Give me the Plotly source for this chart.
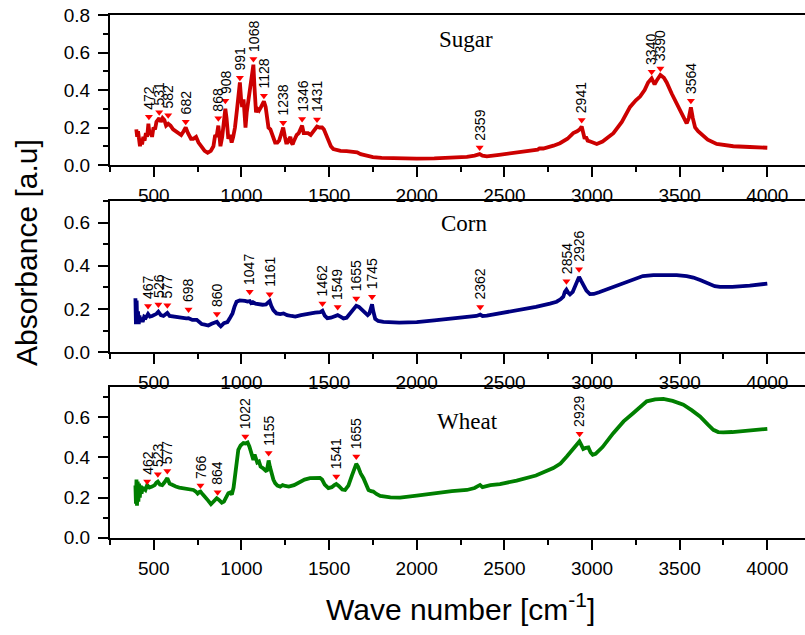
import plotly.graph_objects as go

# ---------------- data ----------------
sugar_x = [400,405,410,415,421,428,433,440,447,455,462,469,476,483,490,498,507,515,525,531,540,550,560,570,582,595,610,625,640,656,670,682,695,712,725,741,755,769,790,807,825,840,850,858,868,875,880,890,898,908,915,920,925,935,944,953,963,975,983,991,998,1004,1012,1018,1023,1030,1039,1048,1056,1062,1068,1074,1078,1083,1090,1100,1112,1120,1128,1138,1145,1154,1165,1175,1184,1192,1205,1215,1225,1238,1248,1255,1262,1270,1279,1285,1292,1300,1315,1327,1337,1346,1355,1365,1380,1395,1410,1422,1431,1445,1460,1470,1480,1496,1510,1524,1545,1565,1600,1640,1660,1680,1710,1750,1800,1900,2000,2100,2200,2286,2330,2359,2375,2400,2470,2520,2570,2650,2690,2700,2722,2780,2817,2860,2893,2915,2930,2941,2950,2958,2965,2975,2990,3010,3027,3060,3090,3122,3170,3217,3250,3274,3300,3320,3340,3357,3372,3390,3410,3426,3455,3483,3510,3540,3552,3564,3575,3588,3605,3626,3660,3711,3760,3806,3900,4000]
sugar_y = [0.19,0.15,0.18,0.12,0.10,0.14,0.11,0.15,0.13,0.17,0.15,0.22,0.16,0.18,0.15,0.20,0.19,0.23,0.24,0.25,0.23,0.25,0.24,0.21,0.22,0.21,0.19,0.18,0.17,0.16,0.18,0.20,0.17,0.14,0.14,0.15,0.12,0.10,0.075,0.065,0.075,0.10,0.16,0.15,0.21,0.15,0.10,0.15,0.22,0.30,0.25,0.18,0.14,0.16,0.12,0.15,0.20,0.30,0.40,0.44,0.35,0.31,0.35,0.28,0.20,0.28,0.35,0.40,0.48,0.52,0.535,0.42,0.30,0.28,0.30,0.29,0.31,0.33,0.34,0.31,0.24,0.20,0.19,0.16,0.13,0.12,0.12,0.13,0.16,0.20,0.15,0.12,0.12,0.14,0.15,0.12,0.11,0.13,0.16,0.17,0.19,0.21,0.17,0.17,0.17,0.16,0.18,0.20,0.205,0.20,0.20,0.19,0.17,0.14,0.10,0.085,0.078,0.075,0.074,0.073,0.068,0.058,0.050,0.042,0.038,0.035,0.034,0.035,0.037,0.043,0.050,0.058,0.050,0.046,0.054,0.060,0.066,0.076,0.082,0.088,0.088,0.103,0.116,0.14,0.17,0.18,0.19,0.205,0.16,0.14,0.15,0.13,0.125,0.115,0.112,0.125,0.145,0.17,0.23,0.31,0.345,0.365,0.40,0.44,0.462,0.43,0.455,0.48,0.465,0.44,0.38,0.33,0.28,0.222,0.25,0.308,0.25,0.20,0.18,0.165,0.135,0.112,0.104,0.100,0.096,0.092]

corn_x = [395,398,402,405,410,414,418,424,430,436,445,455,467,478,490,505,515,526,540,555,565,577,590,605,625,645,669,685,698,720,745,760,773,790,811,830,845,860,870,882,900,920,935,949,960,972,990,1006,1020,1035,1047,1055,1065,1080,1100,1120,1140,1150,1161,1170,1182,1200,1221,1240,1260,1285,1307,1340,1383,1420,1450,1462,1475,1490,1510,1535,1549,1565,1582,1600,1620,1640,1655,1670,1685,1700,1720,1730,1738,1745,1752,1763,1780,1810,1900,2000,2100,2200,2286,2340,2362,2375,2400,2475,2570,2680,2760,2798,2820,2836,2845,2854,2865,2874,2890,2905,2916,2926,2938,2950,2968,2988,3010,3040,3080,3122,3180,3236,3290,3350,3420,3483,3540,3578,3620,3650,3673,3700,3730,3800,3900,4000]
corn_y = [0.25,0.13,0.24,0.14,0.19,0.13,0.17,0.14,0.16,0.14,0.165,0.16,0.177,0.165,0.168,0.172,0.178,0.188,0.172,0.168,0.174,0.182,0.168,0.166,0.162,0.160,0.157,0.157,0.158,0.150,0.150,0.137,0.131,0.128,0.124,0.132,0.137,0.141,0.130,0.120,0.135,0.14,0.16,0.18,0.21,0.234,0.240,0.240,0.238,0.235,0.237,0.228,0.232,0.225,0.222,0.220,0.222,0.230,0.237,0.215,0.195,0.180,0.177,0.180,0.172,0.168,0.165,0.172,0.180,0.184,0.186,0.192,0.170,0.158,0.160,0.168,0.172,0.165,0.157,0.160,0.180,0.205,0.215,0.21,0.198,0.185,0.172,0.180,0.215,0.222,0.19,0.155,0.145,0.141,0.137,0.140,0.148,0.155,0.162,0.168,0.174,0.168,0.170,0.180,0.192,0.210,0.225,0.234,0.245,0.257,0.28,0.290,0.275,0.268,0.280,0.310,0.335,0.349,0.330,0.310,0.285,0.269,0.270,0.278,0.290,0.303,0.322,0.341,0.353,0.357,0.358,0.357,0.352,0.346,0.333,0.322,0.315,0.306,0.303,0.303,0.308,0.318]

wheat_x = [395,398,401,404,408,412,416,420,425,430,436,445,452,462,475,490,505,515,523,535,548,560,570,577,590,605,625,645,669,690,710,726,740,750,760,766,780,792,810,826,840,850,859,870,888,900,912,925,935,945,955,965,975,982,995,1011,1022,1035,1045,1055,1068,1075,1082,1090,1100,1109,1125,1144,1150,1155,1162,1170,1182,1192,1205,1221,1235,1250,1270,1300,1334,1360,1391,1420,1448,1460,1475,1496,1515,1530,1541,1555,1575,1591,1610,1630,1645,1655,1665,1680,1696,1710,1725,1740,1752,1770,1791,1850,1905,2000,2095,2200,2286,2330,2361,2375,2420,2475,2570,2680,2779,2820,2856,2880,2903,2915,2928,2940,2950,2965,2979,2992,3004,3020,3060,3120,3180,3236,3275,3312,3360,3407,3460,3521,3570,3616,3660,3692,3720,3749,3800,3901,4000]
wheat_y = [0.26,0.17,0.29,0.16,0.28,0.18,0.27,0.20,0.26,0.22,0.25,0.24,0.238,0.262,0.25,0.255,0.262,0.275,0.280,0.265,0.262,0.275,0.290,0.297,0.270,0.262,0.255,0.250,0.247,0.242,0.240,0.238,0.230,0.220,0.228,0.230,0.215,0.200,0.185,0.167,0.180,0.192,0.197,0.190,0.175,0.180,0.197,0.222,0.225,0.215,0.25,0.33,0.40,0.438,0.46,0.472,0.470,0.475,0.455,0.42,0.388,0.415,0.400,0.375,0.380,0.355,0.345,0.33,0.36,0.385,0.355,0.322,0.290,0.272,0.26,0.255,0.262,0.258,0.255,0.262,0.280,0.290,0.297,0.297,0.298,0.290,0.265,0.247,0.252,0.262,0.268,0.258,0.240,0.238,0.26,0.31,0.35,0.368,0.355,0.32,0.297,0.262,0.238,0.232,0.230,0.218,0.208,0.201,0.200,0.210,0.222,0.232,0.238,0.248,0.263,0.252,0.262,0.267,0.285,0.310,0.347,0.37,0.405,0.43,0.45,0.465,0.480,0.460,0.442,0.448,0.450,0.425,0.413,0.418,0.452,0.52,0.58,0.622,0.655,0.680,0.690,0.692,0.682,0.663,0.635,0.605,0.565,0.538,0.527,0.525,0.527,0.533,0.543]

sugar_peaks = [472,531,582,682,868,908,991,1068,1128,1238,1346,1431,2359,2941,3340,3390,3564]
sugar_peak_y = [0.257,0.281,0.265,0.231,0.249,0.343,0.466,0.565,0.370,0.225,0.245,0.243,0.093,0.240,0.497,0.515,0.343]
corn_peaks = [467,526,577,698,860,1047,1161,1462,1549,1655,1745,2362,2854,2926]
corn_peak_y = [0.214,0.221,0.218,0.198,0.177,0.280,0.269,0.226,0.210,0.249,0.257,0.210,0.329,0.384]
wheat_peaks = [462,523,577,766,864,1022,1155,1541,1655,2929]
wheat_peak_y = [0.280,0.317,0.333,0.260,0.227,0.505,0.422,0.305,0.405,0.518]

panel_names = ["Sugar", "Corn", "Wheat"]
panel_label_pos = [(2281, 0.667), (2270, 0.597), (2290, 0.58)]
y_ranges = [[0, 0.8], [0, 0.7], [0, 0.75]]
y_ticks = [[0.0, 0.2, 0.4, 0.6, 0.8], [0.0, 0.2, 0.4, 0.6], [0.0, 0.2, 0.4, 0.6]]
x_ticks = [500, 1000, 1500, 2000, 2500, 3000, 3500, 4000]
x_range = [250, 4215]
colors = ["#CC0000", "#000080", "#007F00"]

series = [(sugar_x, sugar_y, sugar_peaks, sugar_peak_y),
          (corn_x, corn_y, corn_peaks, corn_peak_y),
          (wheat_x, wheat_y, wheat_peaks, wheat_peak_y)]

# ---------------- figure ----------------
W, H = 805, 635
ML = 110
domains = [[1 - 165 / H, 1 - 15 / H], [1 - 352.3 / H, 1 - 201 / H], [1 - 537.7 / H, 1 - 387.3 / H]]

fig = go.Figure()
annotations = []
sans = "Liberation Sans, Arial, sans-serif"
serif = "Liberation Serif, Times New Roman, serif"

for i, (xs, ys, pk, pky) in enumerate(series):
    n = "" if i == 0 else str(i + 1)
    fig.add_trace(go.Scatter(x=xs, y=ys, mode="lines", xaxis="x" + n, yaxis="y" + n,
                             line=dict(color=colors[i], width=3.8), showlegend=False,
                             hoverinfo="skip"))
    fig.add_trace(go.Scatter(x=pk, y=pky, mode="markers", xaxis="x" + n, yaxis="y" + n,
                             marker=dict(symbol="triangle-down", size=7, color="#FF0000",
                                         line=dict(width=0)),
                             showlegend=False, hoverinfo="skip"))
    for px_, py_ in zip(pk, pky):
        annotations.append(dict(x=px_, y=py_, xref="x" + n, yref="y" + n, text=str(px_),
                                textangle=-90, showarrow=False, xanchor="center",
                                yanchor="bottom", yshift=5,
                                font=dict(family=sans, size=14, color="black")))
    lx, ly = panel_label_pos[i]
    annotations.append(dict(x=lx, y=ly, xref="x" + n, yref="y" + n, text=panel_names[i],
                            showarrow=False, xanchor="center", yanchor="middle",
                            font=dict(family=serif, size=23, color="black")))

    axis_common = dict(showline=True, linecolor="black", linewidth=2, ticks="outside",
                       tickcolor="black", tickwidth=2, ticklen=10, showgrid=False,
                       zeroline=False, tickfont=dict(family=sans, size=19, color="black"))
    fig.layout["xaxis" + n] = dict(domain=[0, 1], range=x_range, anchor="y" + n,
                                   tickvals=x_ticks, mirror=True,
                                   minor=dict(dtick=250, tick0=250, ticklen=5, tickwidth=2,
                                              tickcolor="black", ticks="outside"),
                                   ticklabelstandoff=2, **axis_common)
    fig.layout["yaxis" + n] = dict(domain=domains[i], range=y_ranges[i], anchor="x" + n,
                                   tickvals=y_ticks[i], tickformat=".1f", mirror=False,
                                   minor=dict(dtick=0.1, tick0=0, ticklen=5, tickwidth=2,
                                              tickcolor="black", ticks="outside"),
                                   ticklabelstandoff=4, **axis_common)

# axis titles
annotations.append(dict(x=(26 - ML) / (W - ML), y=1 - 253 / H, xref="paper", yref="paper",
                        text="Absorbance [a.u]", textangle=-90, showarrow=False,
                        xanchor="center", yanchor="middle",
                        font=dict(family=sans, size=30, color="black")))
annotations.append(dict(x=(460 - ML) / (W - ML), y=1 - 607 / H, xref="paper", yref="paper",
                        text="Wave number [cm<sup>-1</sup>]", showarrow=False,
                        xanchor="center", yanchor="middle",
                        font=dict(family=sans, size=30, color="black")))

fig.update_layout(width=W, height=H, margin=dict(l=ML, r=0, t=0, b=0, autoexpand=False),
                  paper_bgcolor="white", plot_bgcolor="white", annotations=annotations)

fig.write_html("out.html")
